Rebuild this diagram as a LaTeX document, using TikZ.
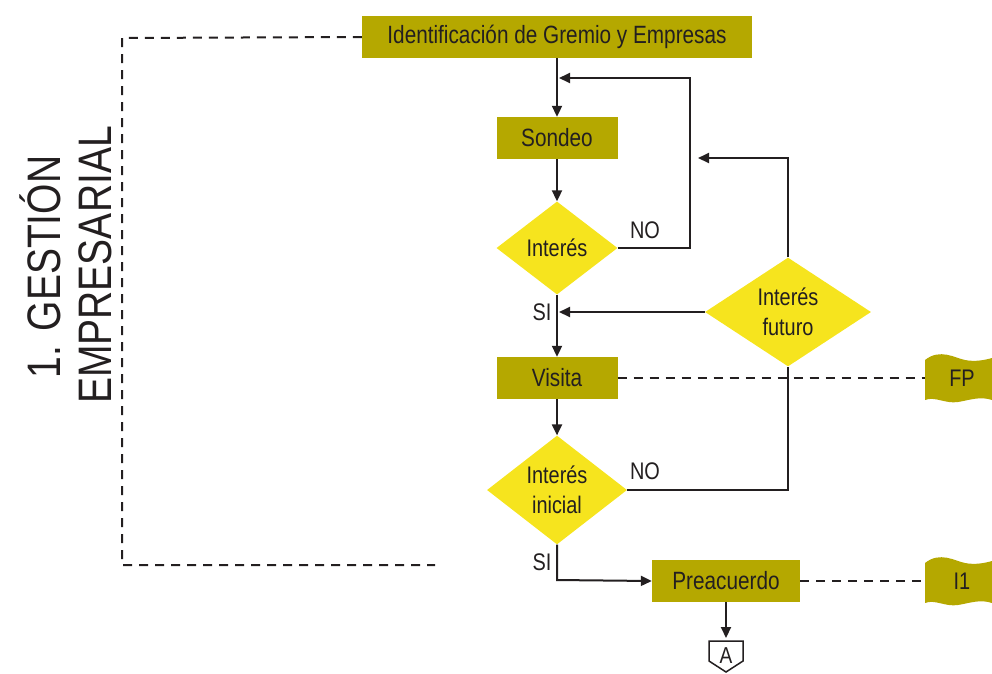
\documentclass[tikz,border=0pt]{standalone}
\usepackage{fontspec}
\setmainfont[FakeStretch=0.83]{Liberation Sans}
\usetikzlibrary{arrows.meta,shapes.geometric}
\definecolor{olive}{RGB}{181,168,0}
\definecolor{yel}{RGB}{246,228,30}
\definecolor{ink}{RGB}{35,31,32}
\begin{document}
\begin{tikzpicture}[x=1pt,y=-1pt,
  font=\fontsize{25}{27}\selectfont, text=ink,
  box/.style={fill=olive,minimum height=42pt,inner sep=0pt},
  dia/.style={diamond,fill=yel,inner sep=0pt,align=center,font=\fontsize{24}{30}\selectfont},
  line/.style={draw=ink,line width=2pt},
  arr/.style={line,-{Triangle[length=11pt,width=10pt]}},
  dashline/.style={draw=ink,line width=2pt,dash pattern=on 9pt off 7pt},
  lbl/.style={inner sep=0pt,font=\fontsize{24}{26}\selectfont}]
\useasboundingbox (0,0) rectangle (992,673);
% nodes
\node[box,minimum width=390pt] (ide) at (557,37) {Identificación de Gremio y Empresas};
\node[box,minimum width=121pt] (son) at (557,138) {Sondeo};
\node[dia,minimum width=121pt,minimum height=93pt] (int) at (557,248) {Interés};
\node[dia,minimum width=166pt,minimum height=100pt] (fut) at (788,312) {Interés\\futuro};
\node[box,minimum width=121pt] (vis) at (557,378) {Visita};
\node[dia,minimum width=140pt,minimum height=106pt] (ini) at (557,490) {Interés\\inicial};
\node[box,minimum width=148pt] (pre) at (726,581) {Preacuerdo};
% flags
\foreach \n/\y/\t in {fp/378/FP, i1/581/I1}{
  \fill[olive] (925,\y-18) .. controls (940,\y-30) and (955,\y-20) .. (965,\y-18)
     .. controls (975,\y-16) and (985,\y-18) .. (992,\y-20)
     -- (992,\y+22) .. controls (980,\y+18) and (970,\y+22) .. (958,\y+24)
     .. controls (945,\y+26) and (935,\y+18) .. (925,\y+22) -- cycle;
  \node[lbl] (\n) at (962,\y) {\t};
  \coordinate (\n w) at (925,\y);
}
% off page connector
\draw[line width=1.5pt,draw=ink,fill=white] (709,641) -- (743,641) -- (743,661) -- (726,672) -- (709,661) -- cycle;
\node[lbl,font=\fontsize{23}{25}\selectfont] (A) at (726,656) {A};
\coordinate (Atop) at (726,638);
% arrows
\draw[arr] (ide) -- (son);
\draw[arr] (son) -- (int);
\draw[arr] (int.south) -- (vis.north);
\draw[arr] (vis) -- (ini);
\draw[arr] (int.east) -- (690,248) -- (690,78) -- (559,78);
\draw[arr] (fut.north) -- (788,158) -- (698,158);
\draw[arr] (fut.west) -- (559,312);
\draw[line] (ini.east) -- (788,490) -- (fut.south);
\draw[arr] (ini.south) -- (557,580) -- (pre.west);
\draw[arr] (pre.south) -- (Atop);
% labels
\node[lbl] at (645,230) {NO};
\node[lbl] at (645,471) {NO};
\node[lbl] at (542,312) {SI};
\node[lbl] at (542,562) {SI};
% dashed
\draw[dashline] (ide.west) -- (122,38) -- (122,565) -- (435,565);
\draw[dashline] (vis.east) -- (fpw);
\draw[dashline] (pre.east) -- (i1w);
% side titles
\node[inner sep=0pt,rotate=90,font=\fontsize{47}{49}\selectfont] (t1) at (40,267) {1. GESTIÓN};
\node[inner sep=0pt,rotate=90,font=\fontsize{47}{49}\selectfont] (t2) at (95,265) {EMPRESARIAL};
\end{tikzpicture}
\end{document}
